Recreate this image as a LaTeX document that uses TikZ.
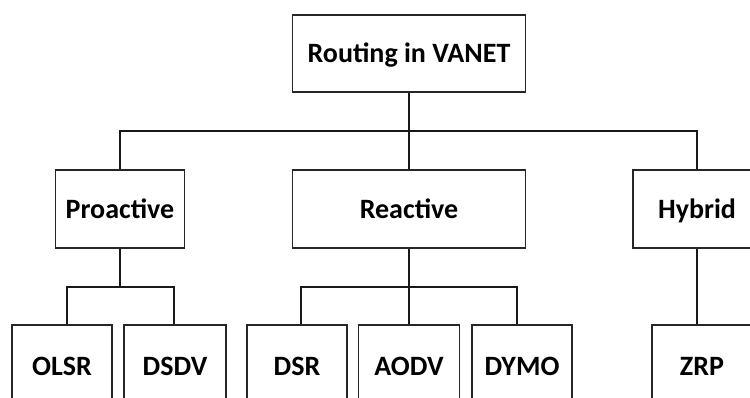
\documentclass[tikz,border=0pt]{standalone}
\usepackage{fontspec}
\setmainfont{Carlito}
\begin{document}
\begin{tikzpicture}[x=1pt,y=-1pt,
  box/.style={draw=black!85,line width=1.3pt,fill=white,inner sep=0pt,
    text height=18pt,text depth=0pt,
    font=\fontsize{28}{32}\selectfont\bfseries,text=black},
  wire/.style={draw=black!90,line width=2pt}]
\useasboundingbox (0,0) rectangle (750,397);
\clip (0,0) rectangle (750,397);
\node[box,minimum width=233,minimum height=77] (root) at (409,53.5) {Routing in VANET};
\node[box,minimum width=129,minimum height=78] (pro) at (120,209) {Proactive};
\node[box,minimum width=233,minimum height=78] (rea) at (409,209) {Reactive};
\node[box,minimum width=128,minimum height=78] (hyb) at (697,209) {Hybrid};
\node[box,minimum width=100,minimum height=82] (olsr) at (62,366) {OLSR};
\node[box,minimum width=102,minimum height=82] (dsdv) at (175,366) {DSDV};
\node[box,minimum width=100,minimum height=82] (dsr) at (297,366) {DSR};
\node[box,minimum width=101,minimum height=82] (aodv) at (409,366) {AODV};
\node[box,minimum width=100,minimum height=82] (dymo) at (522,366) {DYMO};
\node[box,minimum width=100,minimum height=82] (zrp) at (702,366) {ZRP};
\coordinate (top) at (409,131);
\draw[wire] (root.south) -- (top);
\draw[wire] (pro.north) |- (top) -| (hyb.north);
\draw[wire] (top) -- (rea.north);
\draw[wire] (pro.south) -- ++(0,38) coordinate (pj);
\draw[wire] ([xshift=5]olsr.north) |- (pj) -| ([xshift=-1]dsdv.north);
\draw[wire] (rea.south) -- ++(0,38) coordinate (rj);
\draw[wire] ([xshift=4]dsr.north) |- (rj) -| ([xshift=-5]dymo.north);
\draw[wire] (rj) -- (aodv.north);
\draw[wire] (hyb.south) -- ([xshift=-5]zrp.north);
\end{tikzpicture}
\end{document}
